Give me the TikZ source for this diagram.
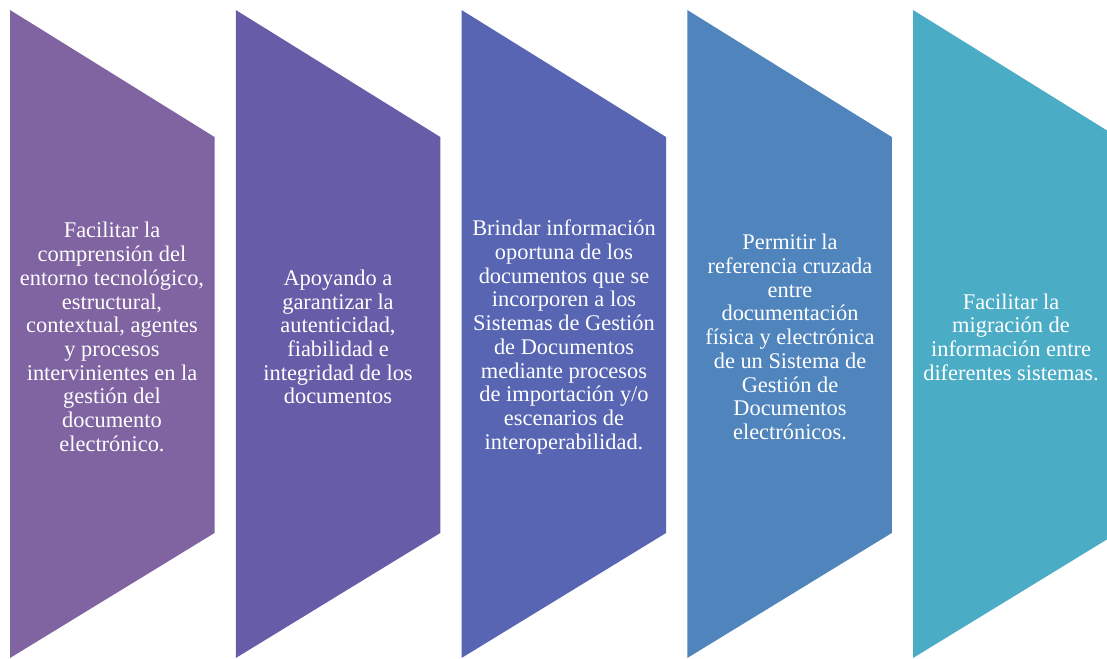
\documentclass[tikz,border=0pt]{standalone}
\usepackage{fontspec}
\setmainfont{Liberation Serif}
\definecolor{cA}{HTML}{8064A2}
\definecolor{cB}{HTML}{675CA8}
\definecolor{cC}{HTML}{5765B2}
\definecolor{cD}{HTML}{4F84BD}
\definecolor{cE}{HTML}{4BACC6}
\begin{document}
\begin{tikzpicture}[x=1pt,y=-1pt,
  chev/.style={draw=none},
  lbl/.style={text=white,align=center,font=\fontsize{22.4}{23.7}\selectfont,inner sep=0pt}]
\useasboundingbox (0,0) rectangle (1107,658);
\clip (0,0) rectangle (1107,658);
\fill[white] (0,0) rectangle (1107,658);
\foreach \i/\c in {0/cA,1/cB,2/cC,3/cD,4/cE}{
  \pgfmathsetmacro{\xl}{10+225.75*\i}
  \pgfmathsetmacro{\xr}{\xl+204.5}
  \fill[\c] (\xl,10) -- (\xr,137) -- (\xr,533) -- (\xl,658) -- cycle;
}
\node[lbl] (t1) at (112,337) {Facilitar la\\comprensión del\\entorno tecnológico,\\estructural,\\contextual, agentes\\y procesos\\intervinientes en la\\gestión del\\documento\\electrónico.};
\node[lbl] (t2) at (338,337) {Apoyando a\\garantizar la\\autenticidad,\\fiabilidad e\\integridad de los\\documentos};
\node[lbl] (t3) at (564,337) {Brindar información\\oportuna de los\\documentos que se\\incorporen a los\\Sistemas de Gestión\\de Documentos\\mediante procesos\\de importación y/o\\escenarios de\\interoperabilidad.};
\node[lbl] (t4) at (790,337) {Permitir la\\referencia cruzada\\entre\\documentación\\física y electrónica\\de un Sistema de\\Gestión de\\Documentos\\electrónicos.};
\node[lbl] (t5) at (1011,337) {Facilitar la\\migración de\\información entre\\diferentes sistemas.};
\end{tikzpicture}
\end{document}
